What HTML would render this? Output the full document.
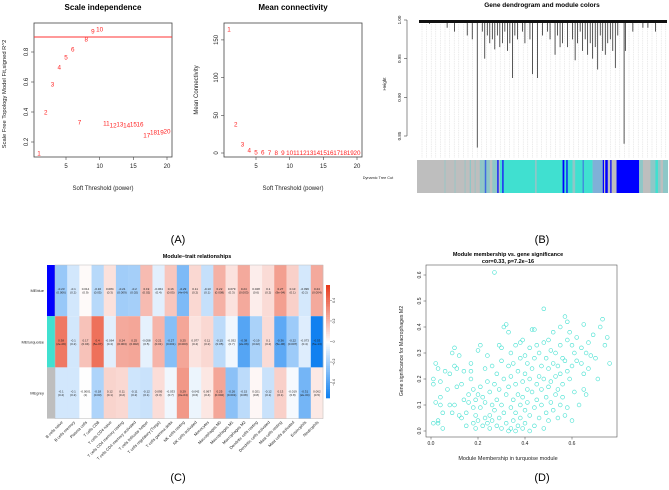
<!DOCTYPE html>
<html><head><meta charset="utf-8"><style>
html,body{margin:0;padding:0;background:#fff;}
svg{display:block;font-family:"Liberation Sans",Arial,sans-serif;}
</style></head><body>
<svg id="fig" width="669" height="490" viewBox="0 0 669 490" xmlns="http://www.w3.org/2000/svg">
<g id="pa1"></g>
<g id="pa2"></g>
<g id="pb"></g>
<g id="pc"></g>
<g id="pd"></g>
<text x="178" y="243" font-size="11" text-anchor="middle">(A)</text>
<text x="542" y="243" font-size="11" text-anchor="middle">(B)</text>
<text x="178" y="481" font-size="11" text-anchor="middle">(C)</text>
<text x="542" y="481" font-size="11" text-anchor="middle">(D)</text>
</svg>
<script>
const NS="http://www.w3.org/2000/svg";
function mk(parent,tag,attrs,txt){const e=document.createElementNS(NS,tag);for(const k in attrs)e.setAttribute(k,attrs[k]);if(txt!==undefined)e.textContent=txt;parent.appendChild(e);return e;}

// ---------- Panel A data ----------
const powers=[1,2,3,4,5,6,7,8,9,10,11,12,13,14,15,16,17,18,19,20];
const fitR2=[0.127,0.40,0.587,0.70,0.767,0.82,0.333,0.887,0.94,0.953,0.327,0.313,0.32,0.313,0.32,0.32,0.247,0.267,0.267,0.273];
const meanK=[164,38,12,4,1,0.8,0.6,0.5,0.4,0.3,0.3,0.2,0.2,0.2,0.1,0.1,0.1,0.1,0.1,0.1];
const r2Ticks=[0.2,0.4,0.6,0.8];
const kTicks=[0,50,100,150];
const powerTicks=[5,10,15,20];
const r2Cutoff=0.9;

// ---------- Panel C data ----------
const traits=["B cells naive","B cells memory","Plasma cells","T cells CD8","T cells CD4 naive","T cells CD4 memory resting","T cells CD4 memory activated","T cells follicular helper","T cells regulatory (Tregs)","T cells gamma delta","NK cells resting","NK cells activated","Monocytes","Macrophages M0","Macrophages M1","Macrophages M2","Dendritic cells resting","Dendritic cells activated","Mast cells resting","Mast cells activated","Eosinophils","Neutrophils"];
const modules=["MEblue","MEturquoise","MEgrey"];
const moduleColors=["#0000ff","#40e0d0","#bebebe"];
const corBlue=[-0.23,-0.1,0.014,-0.16,0.084,-0.21,-0.2,0.19,-0.064,0.16,-0.29,0.11,-0.13,0.22,0.079,0.24,0.048,0.1,0.27,0.13,-0.096,0.24];
const pBlue=["0.006","0.2","0.9","0.05","0.3","0.009","0.02","0.02","0.4","0.05","4e-04","0.2","0.1","0.008","0.3","0.003","0.6","0.2","9e-04","0.1","0.2","0.004"];
const corTurq=[0.38,-0.1,0.17,0.4,-0.064,0.24,0.25,-0.058,0.21,-0.27,0.25,0.077,0.11,-0.15,-0.032,-0.38,-0.19,0.1,-0.36,-0.22,-0.073,-0.53];
const pTurq=["2e-06","0.2","0.04","5e-07","0.4","0.003","0.002","0.5","0.01","0.001","0.003","0.4","0.2","0.05","0.7","2e-06","0.02","0.2","5e-06","0.007","0.4","5e-13"];
const corGrey=[-0.1,-0.1,-0.0001,-0.18,0.12,0.11,-0.11,-0.12,0.095,-0.033,0.29,-0.042,0.067,0.25,-0.26,-0.15,0.021,-0.12,0.13,-0.019,-0.31,0.062];
const pGrey=["0.2","0.2","1","0.03","0.1","0.2","0.2","0.1","0.3","0.7","3e-04","0.6","0.4","0.002","0.001","0.08","0.8","0.1","0.1","0.8","2e-04","0.5"];
const legendTicks=[0.4,0.2,0,-0.2,-0.4];

// ---------- Panel D data ----------
const mmGsPairs=[[0.01,0.03],[0.01,0.18],[0.01,0.2],[0.02,0.11],[0.02,0.26],[0.03,0.04],[0.03,0.03],[0.03,0.24],[0.04,0.1],[0.04,0.13],[0.04,0.19],[0.05,0.01],[0.05,0.07],[0.06,0.23],[0.07,0.16],[0.08,0.1],[0.08,0.22],[0.09,0.3],[0.09,0.07],[0.1,0.32],[0.1,0.25],[0.1,0.1],[0.11,0.24],[0.11,0.17],[0.12,0.06],[0.12,0.29],[0.13,0.05],[0.13,0.18],[0.14,0.12],[0.14,0.23],[0.15,0.07],[0.15,0.02],[0.16,0.14],[0.16,0.11],[0.17,0.23],[0.17,0.26],[0.17,0.2],[0.18,0.16],[0.18,0.09],[0.18,0.03],[0.19,0.01],[0.19,0.12],[0.19,0.06],[0.2,0.31],[0.2,0.14],[0.2,0.04],[0.21,0.33],[0.21,0.17],[0.21,0.09],[0.22,0.02],[0.22,0.13],[0.23,0.05],[0.23,0.24],[0.23,0.11],[0.24,0.29],[0.24,0.19],[0.24,0.03],[0.25,0.15],[0.25,0.06],[0.25,0.01],[0.26,0.1],[0.26,0.04],[0.26,0.25],[0.27,0.61],[0.27,0.18],[0.27,0.08],[0.28,0.02],[0.28,0.12],[0.28,0.22],[0.29,0.33],[0.29,0.16],[0.29,0.05],[0.3,0.32],[0.3,0.27],[0.3,0.1],[0.3,0.01],[0.31,0.4],[0.31,0.2],[0.31,0.07],[0.32,0.41],[0.32,0.14],[0.32,0.03],[0.33,0.38],[0.33,0.25],[0.33,0.17],[0.33,0.0],[0.34,0.3],[0.34,0.21],[0.34,0.09],[0.34,0.01],[0.35,0.26],[0.35,0.12],[0.35,0.04],[0.36,0.33],[0.36,0.18],[0.36,0.07],[0.36,0.0],[0.37,0.23],[0.37,0.14],[0.37,0.02],[0.38,0.34],[0.38,0.28],[0.38,0.1],[0.38,0.05],[0.39,0.35],[0.39,0.19],[0.39,0.13],[0.39,0.01],[0.4,0.29],[0.4,0.22],[0.4,0.08],[0.4,0.03],[0.41,0.26],[0.41,0.16],[0.41,0.11],[0.42,0.32],[0.42,0.2],[0.42,0.06],[0.42,0.0],[0.43,0.39],[0.43,0.24],[0.43,0.15],[0.44,0.39],[0.44,0.28],[0.44,0.09],[0.44,0.02],[0.45,0.33],[0.45,0.18],[0.45,0.12],[0.46,0.3],[0.46,0.21],[0.46,0.05],[0.47,0.25],[0.47,0.16],[0.47,0.1],[0.48,0.47],[0.48,0.34],[0.48,0.2],[0.48,0.01],[0.49,0.28],[0.49,0.13],[0.49,0.07],[0.5,0.35],[0.5,0.24],[0.5,0.17],[0.5,0.04],[0.51,0.31],[0.51,0.19],[0.51,0.11],[0.52,0.38],[0.52,0.26],[0.52,0.08],[0.53,0.3],[0.53,0.21],[0.53,0.14],[0.54,0.25],[0.54,0.16],[0.54,0.05],[0.55,0.4],[0.55,0.33],[0.55,0.22],[0.55,0.1],[0.56,0.28],[0.56,0.18],[0.56,0.13],[0.57,0.44],[0.57,0.27],[0.57,0.06],[0.58,0.42],[0.58,0.35],[0.58,0.23],[0.58,0.09],[0.59,0.38],[0.59,0.2],[0.6,0.33],[0.6,0.25],[0.6,0.04],[0.61,0.3],[0.61,0.15],[0.62,0.36],[0.62,0.27],[0.63,0.1],[0.64,0.32],[0.64,0.26],[0.65,0.41],[0.65,0.22],[0.65,0.16],[0.66,0.3],[0.66,0.14],[0.67,0.34],[0.67,0.24],[0.68,0.29],[0.69,0.37],[0.7,0.28],[0.71,0.2],[0.72,0.4],[0.73,0.43],[0.74,0.33],[0.75,0.36],[0.76,0.26]];
const mmTicks=[0.0,0.2,0.4,0.6];
const gsTicks=[0.0,0.1,0.2,0.3,0.4,0.5,0.6];

// ---------- Panel B data (leaf fraction, merge height) ----------
const dendroDrops=[[0.15,0.985],[0.24,0.835],[0.27,0.95],[0.31,0.962],[0.38,0.925],[0.46,0.93],[0.48,0.925],[0.55,0.955],[0.63,0.948],[0.72,0.936],[0.79,0.938],[0.825,0.84],[0.83,0.96],[0.2,0.98],[0.22,0.975],[0.29,0.97],[0.33,0.965],[0.36,0.96],[0.4,0.975],[0.43,0.97],[0.5,0.98],[0.53,0.975],[0.58,0.97],[0.6,0.965],[0.66,0.96],[0.68,0.955],[0.7,0.95],[0.74,0.96],[0.76,0.97],[0.86,0.985],[0.9,0.99],[0.95,0.985],[0.26,0.985],[0.28,0.98],[0.3,0.975],[0.32,0.98],[0.34,0.97],[0.35,0.985],[0.37,0.97],[0.39,0.98],[0.42,0.985],[0.45,0.975],[0.52,0.985],[0.56,0.98],[0.57,0.965],[0.62,0.975],[0.64,0.97],[0.65,0.985],[0.67,0.975],[0.69,0.97],[0.71,0.965],[0.73,0.98],[0.75,0.955],[0.77,0.975],[0.78,0.96],[0.8,0.98],[0.12,0.99],[0.05,0.995],[0.92,0.99]];
const treeCutSegments=[[0,1,"#bebebe"],[0.11,0.113,"#8ec7c7"],[0.15,0.153,"#8ec7c7"],[0.19,0.193,"#8ec7c7"],[0.21,0.215,"#8ec7c7"],[0.23,0.233,"#8ec7c7"],[0.25,0.26,"#8ec7c7"],[0.26,0.29,"#8ec7c7"],[0.27,0.276,"#4169e1"],[0.3,0.32,"#8ec7c7"],[0.32,0.325,"#0000ff"],[0.33,0.34,"#40e0d0"],[0.34,0.345,"#0000ff"],[0.345,0.62,"#40e0d0"],[0.47,0.477,"#8ec7c7"],[0.58,0.587,"#0000ff"],[0.595,0.6,"#0000ff"],[0.62,0.63,"#8ec7c7"],[0.63,0.7,"#40e0d0"],[0.66,0.664,"#4169e1"],[0.7,0.74,"#7fb0d8"],[0.74,0.745,"#0000ff"],[0.75,0.76,"#0000ff"],[0.77,0.775,"#0000ff"],[0.795,0.885,"#0000ff"],[0.885,1,"#8ec7c7"],[0.9,0.93,"#bebebe"],[0.95,0.96,"#40e0d0"],[0.97,0.98,"#bebebe"]];

// ===== Panel A1 =====
(function(){
 const g=document.getElementById('pa1');
 const L=34,R=172,T=23,B=157;
 const sx=v=>66+(v-5)*(167-66)/15, sy=v=>142-(v-0.2)*150;
 let e;
 e=mk(g,'rect',{x:L,y:T,width:R-L,height:B-T,fill:'none',stroke:'#444','stroke-width':0.8});
 
 e=mk(g,'text',{x:103,y:10,'font-size':8,'font-weight':'bold','text-anchor':'middle'},'Scale independence');
 
 powerTicks.forEach(t=>{mk(g,'line',{x1:sx(t),x2:sx(t),y1:B,y2:B+3,stroke:'#444','stroke-width':0.6});
  e=mk(g,'text',{x:sx(t),y:B+11,'font-size':6,'text-anchor':'middle',fill:'#222'},t);
  });
 r2Ticks.forEach(t=>{mk(g,'line',{x1:L-3,x2:L,y1:sy(t),y2:sy(t),stroke:'#444','stroke-width':0.6});
  e=mk(g,'text',{x:0,y:0,'font-size':6,'text-anchor':'middle',fill:'#222',transform:`translate(${L-6},${sy(t)}) rotate(-90)`},t.toFixed(1));
  });
 e=mk(g,'text',{x:0,y:0,'font-size':5.8,'text-anchor':'middle',fill:'#222',transform:`translate(6,${(T+B)/2+4}) rotate(-90)`},'Scale Free Topology Model Fit,signed R^2');
 
 e=mk(g,'text',{x:103,y:190,'font-size':6,'text-anchor':'middle',fill:'#222'},'Soft Threshold (power)');
 
 e=mk(g,'line',{x1:L,x2:R,y1:sy(r2Cutoff),y2:sy(r2Cutoff),stroke:'#f33','stroke-width':0.9});
 
 powers.forEach((p,i)=>{e=mk(g,'text',{x:sx(p),y:sy(fitR2[i])+2.3,'font-size':6.3,'text-anchor':'middle',fill:'#f22'},p);
  });
})();
// ===== Panel A2 =====
(function(){
 const g=document.getElementById('pa2');
 const L=224,R=362,T=23,B=157;
 const sx=v=>256+(v-5)*(357-256)/15, sy=v=>153-v*0.754;
 let e;
 e=mk(g,'rect',{x:L,y:T,width:R-L,height:B-T,fill:'none',stroke:'#444','stroke-width':0.8});
 
 e=mk(g,'text',{x:293,y:10,'font-size':8,'font-weight':'bold','text-anchor':'middle'},'Mean connectivity');
 
 powerTicks.forEach(t=>{mk(g,'line',{x1:sx(t),x2:sx(t),y1:B,y2:B+3,stroke:'#444','stroke-width':0.6});
  e=mk(g,'text',{x:sx(t),y:B+11,'font-size':6,'text-anchor':'middle',fill:'#222'},t);
  });
 kTicks.forEach(t=>{mk(g,'line',{x1:L-3,x2:L,y1:sy(t),y2:sy(t),stroke:'#444','stroke-width':0.6});
  e=mk(g,'text',{x:0,y:0,'font-size':6,'text-anchor':'middle',fill:'#222',transform:`translate(${L-6},${sy(t)}) rotate(-90)`},t);
  });
 e=mk(g,'text',{x:0,y:0,'font-size':6,'text-anchor':'middle',fill:'#222',transform:`translate(198,${(T+B)/2}) rotate(-90)`},'Mean Connectivity');
 
 e=mk(g,'text',{x:293,y:190,'font-size':6,'text-anchor':'middle',fill:'#222'},'Soft Threshold (power)');
 
 powers.forEach((p,i)=>{e=mk(g,'text',{x:sx(p),y:sy(meanK[i])+2.3,'font-size':6.3,'text-anchor':'middle',fill:'#f22'},p);
  });
})();
// ===== Panel B =====
(function(){
 const g=document.getElementById('pb');
 const L=417,R=668,T=20,B=158;
 const sx=f=>L+f*(R-L), sy=h=>20+(1-h)*(136-20)/0.15;
 let e;
 e=mk(g,'text',{x:542,y:7,'font-size':6.5,'font-weight':'bold','text-anchor':'middle'},'Gene dendrogram and module colors');
 
 mk(g,'line',{x1:407,x2:407,y1:sy(1),y2:sy(0.85),stroke:'#444','stroke-width':0.6});
 [1.00,0.95,0.90,0.85].forEach(t=>{mk(g,'line',{x1:404,x2:407,y1:sy(t),y2:sy(t),stroke:'#444','stroke-width':0.6});
  e=mk(g,'text',{x:0,y:0,'font-size':4.5,'text-anchor':'middle',fill:'#222',transform:`translate(401,${sy(t)}) rotate(-90)`},t.toFixed(2));
  });
 e=mk(g,'text',{x:0,y:0,'font-size':4.5,'text-anchor':'middle',fill:'#222',transform:`translate(386,84) rotate(-90)`},'Height');
 
 for(let x=L+5;x<R;x+=4.6){mk(g,'line',{x1:x,x2:x,y1:24,y2:B,stroke:'#ccc','stroke-width':0.35,'stroke-dasharray':'1.5,0.8'});}
 e=mk(g,'rect',{x:L+2,y:T,width:R-L-3,height:3,fill:'#111'});
 
 dendroDrops.forEach(d=>{e=mk(g,'line',{x1:sx(d[0]),x2:sx(d[0]),y1:T+2,y2:sy(d[1]),stroke:'#111','stroke-width':0.7});
  });
 treeCutSegments.forEach(s=>{e=mk(g,'rect',{x:sx(s[0]),y:160,width:Math.max(0.5,(s[1]-s[0])*(R-L)),height:33,fill:s[2]});
  });
 e=mk(g,'text',{x:378,y:179,'font-size':3.8,'text-anchor':'middle',fill:'#222'},'Dynamic Tree Cut');
 
})();
// ===== Panel C =====
function corColor(v){const m=0.55;let t=Math.max(-1,Math.min(1,v/m));
 if(t>=0){const r=255-(255-232)*t,gg=255-(255-60)*t,b=255-(255-30)*t;return `rgb(${r|0},${gg|0},${b|0})`;}
 t=-t;const r=255-(255-10)*t,gg=255-(255-125)*t,b=255-(255-240)*t;return `rgb(${r|0},${gg|0},${b|0})`;}
(function(){
 const g=document.getElementById('pc');
 const L=55,R=323,T=265,rowH=51.2;
 const cw=(R-L)/traits.length;
 const cors=[corBlue,corTurq,corGrey], ps=[pBlue,pTurq,pGrey];
 let e;
 e=mk(g,'text',{x:197,y:258,'font-size':5.5,'font-weight':'bold','text-anchor':'middle'},'Module\u2212trait relationships');
 
 modules.forEach((m,r)=>{
  const y=T+r*rowH;
  e=mk(g,'rect',{x:47,y:y,width:8,height:rowH,fill:moduleColors[r]});
  
  e=mk(g,'text',{x:44,y:y+rowH/2+1.5,'font-size':4,'text-anchor':'end',fill:'#222'},m);
  
  traits.forEach((t,c)=>{
   const x=L+c*cw;
   e=mk(g,'rect',{x:x,y:y,width:cw+0.3,height:rowH,fill:corColor(cors[r][c])});
   
   e=mk(g,'text',{x:x+cw/2,y:y+rowH/2-0.5,'font-size':3,'text-anchor':'middle',fill:'#222'},String(cors[r][c]));
   
   e=mk(g,'text',{x:x+cw/2,y:y+rowH/2+3,'font-size':3,'text-anchor':'middle',fill:'#222'},'('+ps[r][c]+')');
   
  });
 });
 mk(g,'rect',{x:L,y:T,width:R-L,height:rowH*3,fill:'none',stroke:'#bbb','stroke-width':0.5});
 traits.forEach((t,c)=>{const x=L+c*cw+cw/2+2;
  e=mk(g,'text',{x:0,y:0,'font-size':4,'text-anchor':'end',fill:'#222',transform:`translate(${x},${T+rowH*3+4}) rotate(-45)`},t);
  });
 const lT=285,lB=398,lx=326;const ly=v=>(lT+lB)/2-v*(lB-lT)/2/0.55;
 for(let i=0;i<60;i++){const v=0.55-i*1.1/60;
  e=mk(g,'rect',{x:lx,y:lT+i*(lB-lT)/60,width:4,height:(lB-lT)/60+0.3,fill:corColor(v)});
  }
 legendTicks.forEach(t=>{mk(g,'line',{x1:lx+4,x2:lx+6,y1:ly(t),y2:ly(t),stroke:'#444','stroke-width':0.4});
  e=mk(g,'text',{x:0,y:0,'font-size':3.5,'text-anchor':'middle',fill:'#222',transform:`translate(${lx+9},${ly(t)}) rotate(-90)`},t===0?'0':String(t).replace('-','\u2212'));
  });
})();
// ===== Panel D =====
(function(){
 const g=document.getElementById('pd');
 const L=426,R=617,T=265,B=437;
 const sx=v=>431+v*(572-431)/0.6, sy=v=>431-v*(431-275)/0.6;
 let e;
 e=mk(g,'text',{x:508,y:256,'font-size':5.5,'font-weight':'bold','text-anchor':'middle'},'Module membership vs. gene significance');
 
 e=mk(g,'text',{x:508,y:263,'font-size':5.5,'font-weight':'bold','text-anchor':'middle'},'cor=0.33, p=7.2e\u221216');
 
 e=mk(g,'rect',{x:L,y:T,width:R-L,height:B-T,fill:'none',stroke:'#555','stroke-width':0.6});
 
 mmTicks.forEach(t=>{mk(g,'line',{x1:sx(t),x2:sx(t),y1:B,y2:B+2.5,stroke:'#444','stroke-width':0.5});
  e=mk(g,'text',{x:sx(t),y:B+8,'font-size':5,'text-anchor':'middle',fill:'#222'},t.toFixed(1));
  });
 gsTicks.forEach(t=>{mk(g,'line',{x1:L-2.5,x2:L,y1:sy(t),y2:sy(t),stroke:'#444','stroke-width':0.5});
  e=mk(g,'text',{x:0,y:0,'font-size':5,'text-anchor':'middle',fill:'#222',transform:`translate(${L-5},${sy(t)}) rotate(-90)`},t.toFixed(1));
  });
 e=mk(g,'text',{x:0,y:0,'font-size':5.2,'text-anchor':'middle',fill:'#222',transform:`translate(403,${(T+B)/2}) rotate(-90)`},'Gene significance for  Macrophages M2');
 
 e=mk(g,'text',{x:508,y:460,'font-size':5.5,'text-anchor':'middle',fill:'#222'},'Module Membership in turquoise module');
 
 mmGsPairs.forEach(p=>{e=mk(g,'circle',{cx:sx(p[0]),cy:sy(p[1]),r:1.9,fill:'none',stroke:'#40e0d0','stroke-width':0.6});
  });
})();
</script>
</body></html>
